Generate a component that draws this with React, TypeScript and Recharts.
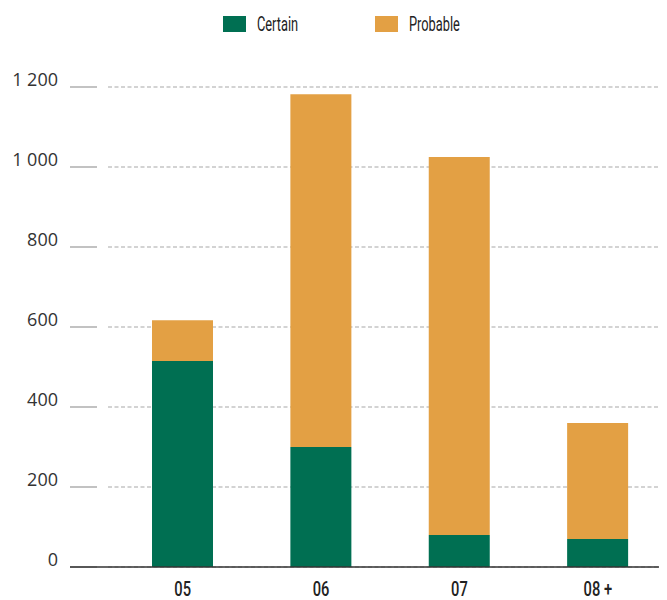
import React from "react";
import { BarChart, Bar, XAxis, YAxis, CartesianGrid } from "recharts";

const categories = ["05", "06", "07", "08 +"];
const certain = [515, 300, 80, 70];
const probable = [102, 882, 945, 290];
const yTicks = [0, 200, 400, 600, 800, 1000, 1200];
const seriesNames = ["Certain", "Probable"];

const GREEN = "#006F52";
const ORANGE = "#E3A044";
const CONDENSED = "Roboto, 'DejaVu Sans', sans-serif";

const data = categories.map((c, i) => ({
  name: c,
  certain: certain[i],
  probable: probable[i],
}));

const formatThousands = (v: number) =>
  String(v).replace(/\B(?=(\d{3})+(?!\d))/g, " ");

// Each horizontal grid line: short solid tick segment, then a dashed run.
const gridLine = (props: any) => {
  const { x1, x2, y1, index } = props;
  return (
    <g key={`gl-${index}-${y1}`}>
      <line x1={x1} x2={x1 + 27} y1={y1} y2={y1} stroke="#9a9a9a" strokeWidth={1.2} />
      <line
        x1={x1 + 38}
        x2={x2}
        y1={y1}
        y2={y1}
        stroke="#a8a8a8"
        strokeWidth={1.2}
        strokeDasharray="4 2.5"
      />
    </g>
  );
};

const YTick = (props: any) => {
  const { x, y, payload } = props;
  return (
    <text
      x={x - 10}
      y={y - 1}
      textAnchor="end"
      fill="#333"
      fontSize={18}
      fontFamily="'Open Sans', sans-serif"
    >
      {formatThousands(payload.value)}
    </text>
  );
};

const XTick = (props: any) => {
  const { x, y, payload } = props;
  return (
    <text
      transform={`translate(${x},${y + 21}) scale(0.7,1)`}
      textAnchor="middle"
      fill="#222"
      fontSize={21}
      fontWeight={500}
      fontFamily={CONDENSED}
    >
      {payload.value}
    </text>
  );
};

const LegendRow = () => {
  const colors = [GREEN, ORANGE];
  const xs = [215, 367];
  return (
    <svg
      width={659}
      height={40}
      style={{ position: "absolute", left: 0, top: 0, pointerEvents: "none" }}
    >
      {seriesNames.map((n, i) => (
        <g key={n}>
          <rect x={xs[i]} y={8} width={23} height={16} fill={colors[i]} />
          <text
            transform={`translate(${xs[i] + 34},${23}) scale(0.64,1)`}
            fontSize={20}
            fill="#222"
            fontFamily={CONDENSED}
          >
            {n}
          </text>
        </g>
      ))}
    </svg>
  );
};

export default function App() {
  return (
    <div style={{ position: "relative", width: 659, height: 592 }}>
      <BarChart
        width={659}
        height={592}
        data={data}
        margin={{ top: 79, right: 0, bottom: 0, left: 0 }}
        barCategoryGap={38.5}
      >
        <CartesianGrid vertical={false} horizontal={gridLine} />
        <XAxis
          dataKey="name"
          height={33}
          padding={{ left: 43.5, right: 0 }}
          axisLine={{ stroke: "#333", strokeWidth: 1.5 }}
          tickLine={false}
          tick={<XTick />}
        />
        <YAxis
          width={62}
          domain={[0, 1200]}
          ticks={yTicks}
          axisLine={false}
          tickLine={false}
          tick={<YTick />}
          tickSize={0}
        />
        <Bar dataKey="certain" stackId="a" fill={GREEN} isAnimationActive={false} />
        <Bar dataKey="probable" stackId="a" fill={ORANGE} isAnimationActive={false} />
      </BarChart>
      <LegendRow />
    </div>
  );
}
